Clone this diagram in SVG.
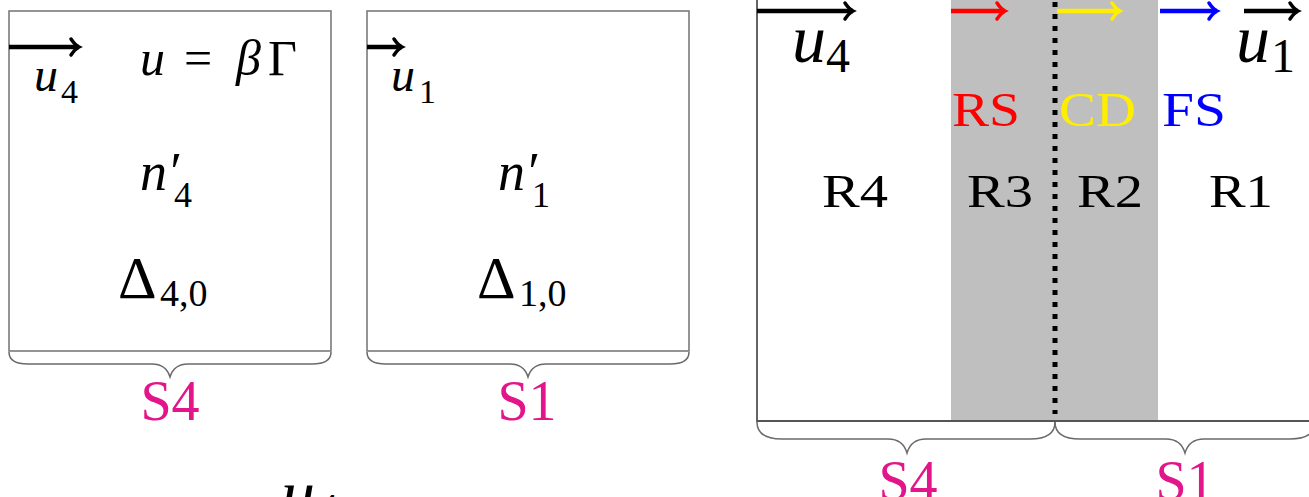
<svg xmlns="http://www.w3.org/2000/svg" width="1309" height="497" viewBox="0 0 1309 497">
<style>
.box{fill:#fff;stroke:#7a7a7a;stroke-width:1.6}
.brace{fill:none;stroke:#6a6a6a;stroke-width:1.5}
.m{font-family:"Liberation Serif","DejaVu Serif",serif;font-style:italic;fill:#000}
.r{font-family:"Liberation Serif","DejaVu Serif",serif;fill:#000}
.mag{font-family:"Liberation Serif","DejaVu Serif",serif;fill:#e2168a}
.arr{stroke-width:4.5;fill:none}
</style>
<defs>
<marker id="hk" markerUnits="userSpaceOnUse" markerWidth="20" markerHeight="20" refX="0" refY="0" viewBox="-12 -10 14 20" orient="auto" overflow="visible"><path d="M-8,-8 Q-4,-2 0,0 Q-4,2 -8,8" fill="none" stroke="#000" stroke-width="3.5" stroke-linecap="round"/></marker>
<marker id="hr" markerUnits="userSpaceOnUse" markerWidth="20" markerHeight="20" refX="0" refY="0" viewBox="-12 -10 14 20" orient="auto" overflow="visible"><path d="M-8,-8 Q-4,-2 0,0 Q-4,2 -8,8" fill="none" stroke="#ff0000" stroke-width="3.5" stroke-linecap="round"/></marker>
<marker id="hy" markerUnits="userSpaceOnUse" markerWidth="20" markerHeight="20" refX="0" refY="0" viewBox="-12 -10 14 20" orient="auto" overflow="visible"><path d="M-8,-8 Q-4,-2 0,0 Q-4,2 -8,8" fill="none" stroke="#ffee00" stroke-width="3.5" stroke-linecap="round"/></marker>
<marker id="hb" markerUnits="userSpaceOnUse" markerWidth="20" markerHeight="20" refX="0" refY="0" viewBox="-12 -10 14 20" orient="auto" overflow="visible"><path d="M-8,-8 Q-4,-2 0,0 Q-4,2 -8,8" fill="none" stroke="#0000ff" stroke-width="3.5" stroke-linecap="round"/></marker>
</defs>
<rect width="1309" height="497" fill="#fff"/>

<!-- Left box S4 -->
<g id="box-s4">
<rect class="box" x="9" y="11" width="322" height="340"/>
<text class="m" x="34" y="91" font-size="48">u</text><text class="r" x="61" y="103" font-size="34">4</text>
<text class="m" x="140" y="75" font-size="50">u</text><text class="r" x="184" y="75" font-size="50">=</text><text class="m" x="236" y="75" font-size="50">β</text><text class="r" x="268" y="75" font-size="50">Γ</text>
<text class="m" x="140" y="190" font-size="54">n′</text><text class="r" x="174" y="207" font-size="36">4</text>
<text class="r" x="118" y="298" font-size="60">Δ</text><text class="r" x="160" y="306" font-size="38">4,0</text>
<path class="brace" d="M9,352 Q9,364 28,364 L152,364 Q166,364 170,377 Q174,364 188,364 L312,364 Q331,364 331,352"/>
<text class="mag" x="170" y="420" font-size="56" text-anchor="middle">S4</text>
</g>

<!-- Left box S1 -->
<g id="box-s1">
<rect class="box" x="367" y="11" width="322" height="340"/>
<text class="m" x="391" y="91" font-size="48">u</text><text class="r" x="419" y="103" font-size="34">1</text>
<text class="m" x="498" y="190" font-size="54">n′</text><text class="r" x="532" y="207" font-size="36">1</text>
<text class="r" x="477" y="298" font-size="60">Δ</text><text class="r" x="519" y="306" font-size="38">1,0</text>
<path class="brace" d="M367,352 Q367,364 386,364 L510,364 Q524,364 528,377 Q532,364 546,364 L670,364 Q689,364 689,352"/>
<text class="mag" x="527" y="420" font-size="56" text-anchor="middle">S1</text>
</g>

<!-- Right panel -->
<g id="panel">
<rect x="951" y="0" width="207" height="421" fill="#bfbfbf"/>
<path d="M757,0 L757,421 L1309,421" fill="none" stroke="#555" stroke-width="1.8"/>
<line x1="1055" y1="2" x2="1055" y2="414" stroke="#000" stroke-width="5" stroke-dasharray="5 7"/>
</g>
<g id="region-labels">
<text class="m" x="792" y="62" font-size="68">u</text><text class="r" x="826" y="72" font-size="48">4</text>
<text class="m" x="1236" y="62" font-size="68">u</text><text class="r" x="1271" y="72" font-size="48">1</text>
<text class="r" x="952" y="126" font-size="48" style="fill:#ff0000" textLength="68" lengthAdjust="spacingAndGlyphs">RS</text>
<text class="r" x="1059" y="126" font-size="48" style="fill:#ffee00" textLength="77" lengthAdjust="spacingAndGlyphs">CD</text>
<text class="r" x="1162" y="126" font-size="48" style="fill:#0000ff" textLength="64" lengthAdjust="spacingAndGlyphs">FS</text>
<text class="r" x="822" y="207" font-size="46" textLength="66" lengthAdjust="spacingAndGlyphs">R4</text>
<text class="r" x="967" y="207" font-size="46" textLength="66" lengthAdjust="spacingAndGlyphs">R3</text>
<text class="r" x="1077" y="207" font-size="46" textLength="66" lengthAdjust="spacingAndGlyphs">R2</text>
<text class="r" x="1209" y="207" font-size="46" textLength="64" lengthAdjust="spacingAndGlyphs">R1</text>
<path class="brace" d="M757,422 Q757,439 782,439 L888,439 Q903,439 907,453 Q911,439 926,439 L1030,439 Q1055,439 1055,422"/>
<path class="brace" d="M1055,422 Q1055,439 1080,439 L1166,439 Q1181,439 1185,453 Q1189,439 1204,439 L1290,439 Q1315,439 1315,422"/>
<text class="mag" x="908" y="500" font-size="56" text-anchor="middle">S4</text>
<text class="mag" x="1185" y="500" font-size="56" text-anchor="middle">S1</text>
</g>
<g id="partial-label">
<text class="m" x="281" y="517" font-size="68">u</text><text class="r" x="315" y="527" font-size="48">4</text>
</g>

<!-- Connectors (arrows) -->
<g id="connectors">
<line class="arr" x1="9" y1="47" x2="79" y2="47" stroke="#000" marker-end="url(#hk)"/>
<line class="arr" x1="367" y1="47" x2="402" y2="47" stroke="#000" marker-end="url(#hk)"/>
<line class="arr" x1="757" y1="11" x2="853" y2="11" stroke="#000" marker-end="url(#hk)"/>
<line class="arr" x1="951" y1="11" x2="1005" y2="11" stroke="#ff0000" marker-end="url(#hr)"/>
<line class="arr" x1="1057" y1="11" x2="1120" y2="11" stroke="#ffee00" marker-end="url(#hy)"/>
<line class="arr" x1="1160" y1="11" x2="1217" y2="11" stroke="#0000ff" marker-end="url(#hb)"/>
<line class="arr" x1="1244" y1="11" x2="1298" y2="11" stroke="#000" marker-end="url(#hk)"/>
</g>
</svg>
